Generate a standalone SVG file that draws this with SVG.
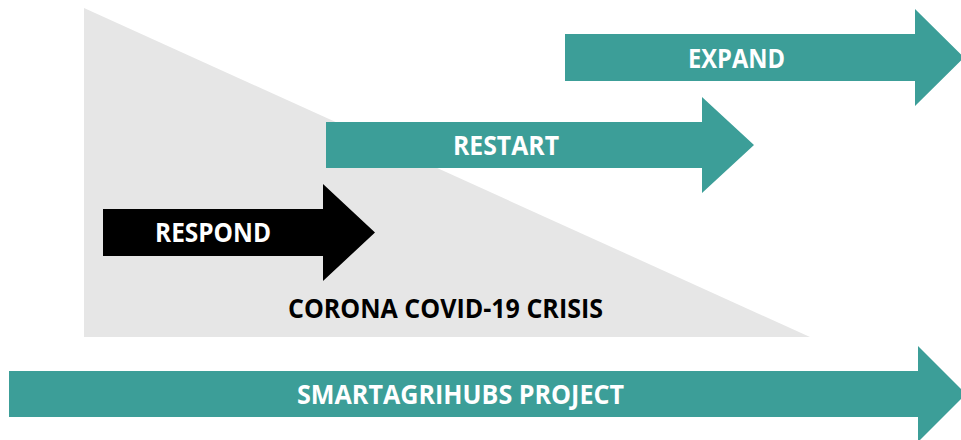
<svg xmlns="http://www.w3.org/2000/svg" width="961" height="440" viewBox="0 0 961 440">
<style>
.teal{fill:#3c9e98}
.lbl{font-family:"Open Sans","Noto Sans","Liberation Sans",sans-serif;font-weight:700;font-size:26px;text-anchor:middle}
.w{fill:#ffffff}
.k{fill:#000000}
</style>
<rect width="961" height="440" fill="#ffffff"/>
<g id="crisis">
<polygon points="84,8 84,337 810,337" fill="#e6e6e6"/>
<text class="lbl k" x="445.5" y="318" textLength="315" lengthAdjust="spacingAndGlyphs">CORONA COVID-19 CRISIS</text>
</g>
<g id="expand">
<polygon class="teal" points="565,34 915,34 915,9 964,57.5 915,106 915,81 565,81"/>
<text class="lbl w" x="736.5" y="68" textLength="97" lengthAdjust="spacingAndGlyphs">EXPAND</text>
</g>
<g id="restart">
<polygon class="teal" points="326,122 702,122 702,97 754,145 702,193 702,168 326,168"/>
<text class="lbl w" x="506" y="155" textLength="106" lengthAdjust="spacingAndGlyphs">RESTART</text>
</g>
<g id="respond">
<polygon points="103,209 323,209 323,184 375,232.5 323,281 323,256 103,256" fill="#000000"/>
<text class="lbl w" x="213" y="242" textLength="116" lengthAdjust="spacingAndGlyphs">RESPOND</text>
</g>
<g id="project">
<polygon class="teal" points="9,371 918,371 918,346 966,394 918,442 918,417 9,417"/>
<text class="lbl w" x="460.5" y="404" textLength="327" lengthAdjust="spacingAndGlyphs">SMARTAGRIHUBS PROJECT</text>
</g>
<g id="connectors"></g>
</svg>
